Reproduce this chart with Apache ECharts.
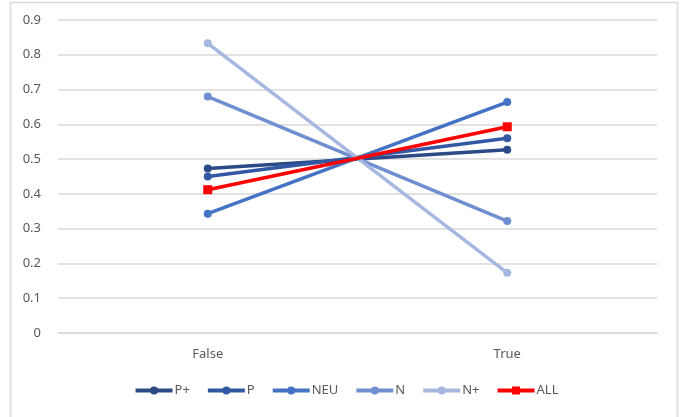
<!DOCTYPE html>
<html>
<head>
<meta charset="utf-8">
<script src="https://cdn.jsdelivr.net/npm/echarts@6/dist/echarts.min.js"></script>
<style>
  html, body { margin: 0; padding: 0; background: #fff; }
  #chart { width: 692px; height: 417px; }
</style>
</head>
<body>
<div id="chart"></div>
<script>
// Share of responses per group, split by the boolean outcome
const categories = ['False', 'True'];
const seriesNames = ['P+', 'P', 'NEU', 'N', 'N+', 'ALL'];
const pPlus = [0.473, 0.527];
const p = [0.45, 0.56];
const neu = [0.343, 0.664];
const n = [0.68, 0.322];
const nPlus = [0.833, 0.173];
const all = [0.412, 0.593];
const yTicks = [0, 0.1, 0.2, 0.3, 0.4, 0.5, 0.6, 0.7, 0.8, 0.9];

const colors = ['#2B4A86', '#3258A3', '#4472C4', '#6F8FD1', '#A6B7E0', '#FF0000'];
const values = [pPlus, p, neu, n, nPlus, all];

const chart = echarts.init(document.getElementById('chart'), null, { renderer: 'canvas' });

const series = seriesNames.map((name, i) => ({
  name: name,
  type: 'line',
  data: values[i],
  symbol: name === 'ALL' ? 'rect' : 'circle',
  symbolSize: name === 'ALL' ? 9 : 8,
  showSymbol: true,
  lineStyle: { width: 3.5, color: colors[i] },
  itemStyle: { color: colors[i] },
  z: name === 'ALL' ? 3 : 2
}));

chart.setOption({
  animation: false,
  backgroundColor: '#ffffff',
  color: colors,
  textStyle: { fontFamily: 'Noto Sans, sans-serif' },
  graphic: [{
    type: 'rect',
    shape: { x: 10.5, y: 2.5, width: 667, height: 420 },
    style: { fill: null, stroke: '#d9d9d9', lineWidth: 1.5 },
    silent: true,
    z: -10
  }],
  grid: { left: 58, right: 35, top: 20, bottom: 84 },
  xAxis: {
    type: 'category',
    data: categories,
    boundaryGap: true,
    axisLine: { show: true, lineStyle: { color: '#d9d9d9', width: 1.5 } },
    axisTick: { show: false },
    axisLabel: { color: '#595959', fontSize: 13, margin: 15 }
  },
  yAxis: {
    type: 'value',
    min: yTicks[0],
    max: yTicks[yTicks.length - 1],
    interval: 0.1,
    axisLine: { show: false },
    axisTick: { show: false },
    axisLabel: {
      color: '#595959',
      fontSize: 13,
      margin: 17,
      formatter: v => {
        const t = yTicks.find(x => Math.abs(x - v) < 1e-9);
        return t === undefined ? '' : String(t);
      }
    },
    splitLine: { lineStyle: { color: '#d9d9d9', width: 1.5 } }
  },
  legend: {
    data: seriesNames,
    bottom: 15,
    left: 'center',
    itemWidth: 37,
    itemHeight: 10,
    itemGap: 16,
    lineStyle: { width: 4 },
    textStyle: { color: '#595959', fontSize: 13, padding: [0, 0, 0, -3] }
  },
  series: series
});
</script>
</body>
</html>
